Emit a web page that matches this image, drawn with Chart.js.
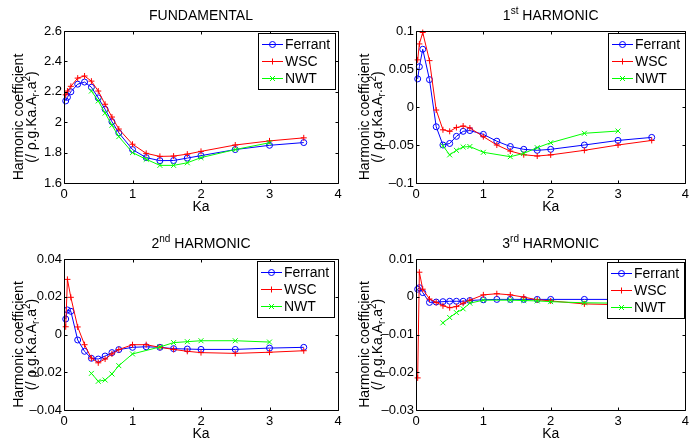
<!DOCTYPE html>
<html>
<head>
<meta charset="utf-8">
<title>Harmonic coefficients vs Ka</title>
<script src="https://cdn.jsdelivr.net/npm/chart.js@4/dist/chart.umd.min.js"></script>
<style>
    html, body { margin: 0; padding: 0; background: #fff; }
    #wrap { position: relative; width: 693px; height: 447px; overflow: hidden; }
    canvas { position: absolute; }
</style>
</head>
<body>
<div id="wrap">
    <canvas id="fund" width="346" height="224" style="left:0;top:0"></canvas>
    <canvas id="h1" width="347" height="224" style="left:346px;top:0"></canvas>
    <canvas id="h2" width="346" height="223" style="left:0;top:224px"></canvas>
    <canvas id="h3" width="347" height="223" style="left:346px;top:224px"></canvas>
</div>
<script>
// ---- data ----
const ka = [0.025, 0.05, 0.1, 0.2, 0.3, 0.4, 0.5, 0.6, 0.7, 0.8, 1.0, 1.2, 1.4, 1.6, 1.8, 2.0, 2.5, 3.0, 3.5];
const seriesNames = ['Ferrant', 'WSC', 'NWT'];
const xTicks = [0, 1, 2, 3, 4];

// fundamental
const fundFerrant = [2.14, 2.164, 2.20, 2.25, 2.264, 2.23, 2.16, 2.085, 2.003, 1.93, 1.82, 1.767, 1.747, 1.748, 1.764, 1.78, 1.82, 1.848, 1.866];
const fundWSC     = [2.18, 2.205, 2.236, 2.29, 2.304, 2.27, 2.205, 2.118, 2.034, 1.955, 1.855, 1.795, 1.775, 1.777, 1.79, 1.808, 1.85, 1.877, 1.897];
const fundNWT     = [null, null, null, null, null, 2.205, 2.14, 2.06, 1.98, 1.905, 1.80, 1.756, 1.716, 1.716, 1.733, 1.767, 1.82, 1.865, null];
const fundTicks = [1.6, 1.8, 2, 2.2, 2.4, 2.6];

// 1st harmonic
const h1Ferrant = [0.037, 0.053, 0.076, 0.036, -0.026, -0.050, -0.048, -0.0386, -0.032, -0.031, -0.036, -0.045, -0.052, -0.0557, -0.057, -0.0557, -0.050, -0.044, -0.040];
const h1WSC     = [0.062, 0.083, 0.098, 0.061, -0.004, -0.030, -0.032, -0.027, -0.025, -0.0276, -0.039, -0.050, -0.058, -0.0628, -0.0645, -0.063, -0.057, -0.050, -0.044];
const h1NWT     = [null, null, null, null, null, -0.051, -0.063, -0.057, -0.0526, -0.052, -0.0596, null, -0.0654, -0.061, -0.0535, -0.047, -0.0346, -0.0316, null];
const h1Ticks = [-0.1, -0.05, 0, 0.05, 0.1];

// 2nd harmonic
const h2Ferrant = [0.0082, 0.013, 0.0123, -0.0029, -0.0089, -0.0126, -0.013, -0.0114, -0.0096, -0.008, -0.0068, -0.0065, -0.0068, -0.0075, -0.0077, -0.0079, -0.0079, -0.0072, -0.0068];
const h2WSC     = [0.0041, 0.0292, 0.0197, 0.004, -0.0054, -0.0125, -0.015, -0.013, -0.0103, -0.008, -0.0054, -0.0054, -0.0068, -0.0079, -0.0089, -0.0096, -0.010, -0.0094, -0.0086];
const h2NWT     = [null, null, null, null, null, -0.0206, -0.0248, -0.0241, -0.0209, -0.0165, -0.0103, null, -0.0066, -0.0043, -0.0038, -0.0033, -0.0033, -0.004, null];
const h2Ticks = [-0.04, -0.02, 0, 0.02, 0.04];

// 3rd harmonic
const h3Ferrant = [0.002, 0.0024, 0.0011, -0.0015, -0.0014, -0.0013, -0.0012, -0.0012, -0.0012, -0.001, -0.0008, -0.0007, -0.0007, -0.0007, -0.0007, -0.0007, -0.0007, -0.0007, -0.0007];
const h3WSC     = [-0.0215, 0.0065, 0.002, -0.0006, -0.0015, -0.0024, -0.0029, -0.0026, -0.0017, -0.0009, 0.0005, 0.0008, 0.0005, -0.0001, -0.0008, -0.0011, -0.0019, -0.0021, -0.0022];
const h3NWT     = [null, null, null, null, null, -0.0069, -0.0055, -0.0042, -0.0032, -0.0017, -0.0009, null, -0.0009, -0.001, -0.0011, -0.0013, -0.0016, -0.0017, null];
const h3Ticks = [-0.03, -0.02, -0.01, 0, 0.01];

// ---- look ----
const FONT = '"Liberation Sans", Arial, Helvetica, sans-serif';
Chart.defaults.font.family = FONT;
Chart.defaults.font.size = 13;
Chart.defaults.color = '#000';

const seriesStyle = [
    { color: '#0000ff', pointStyle: 'circle', radius: 3 },
    { color: '#ff0000', pointStyle: 'cross', radius: 3 },
    { color: '#00ff00', pointStyle: 'crossRot', radius: 3.5 }
];

const yLabel1 = [{ text: 'Harmonic coefficient', size: 14 }];
const yLabel2 = [
    { text: '(/ \u03c1.g.Ka.A', size: 14 },
    { text: 'r', size: 10, dy: 3 },
    { text: '.a', size: 14 },
    { text: '2', size: 10, dy: -6 },
    { text: ')', size: 14 }
];

function toPoints(values) {
    return ka.map((x, i) => ({ x: x, y: values[i] })).filter(p => p.y !== null);
}

function fmt(v) {
    return String(Math.round(v * 1000) / 1000).replace('-', '\u2013');
}

// draw a list of text runs (with sub/superscripts) centred on cx
function drawRuns(ctx, runs, cx, y) {
    const widths = runs.map(r => {
        ctx.font = r.size + 'px ' + FONT;
        return ctx.measureText(r.text).width;
    });
    let x = cx - widths.reduce((s, w) => s + w, 0) / 2;
    runs.forEach((r, i) => {
        ctx.font = r.size + 'px ' + FONT;
        ctx.fillText(r.text, x, y + (r.dy || 0));
        x += widths[i];
    });
}

function drawMarker(ctx, style, x, y) {
    const r = style.radius;
    ctx.beginPath();
    if (style.pointStyle === 'circle') {
        ctx.arc(x, y, r, 0, Math.PI * 2);
    } else if (style.pointStyle === 'cross') {
        ctx.moveTo(x - r, y); ctx.lineTo(x + r, y);
        ctx.moveTo(x, y - r); ctx.lineTo(x, y + r);
    } else {
        const d = r * 0.707;
        ctx.moveTo(x - d, y - d); ctx.lineTo(x + d, y + d);
        ctx.moveTo(x - d, y + d); ctx.lineTo(x + d, y - d);
    }
    ctx.stroke();
}

/**
 * MATLAB style box, inward ticks, labels and legend
 */
const matlabAxes = {
    id: 'matlabAxes',
    afterDatasetsDraw(chart, args, o) {
        const { ctx, chartArea: a } = chart;
        const xs = chart.scales.x, ys = chart.scales.y;
        const L = Math.round(a.left) + 0.5, T = Math.round(a.top) + 0.5;
        const R = Math.round(a.right) + 0.5, B = Math.round(a.bottom) + 0.5;
        ctx.save();
        ctx.strokeStyle = '#000';
        ctx.lineWidth = 1;
        ctx.beginPath();
        ctx.rect(L, T, R - L, B - T);
        xs.ticks.forEach(t => {
            const p = Math.round(xs.getPixelForValue(t.value)) + 0.5;
            ctx.moveTo(p, B); ctx.lineTo(p, B - 3);
            ctx.moveTo(p, T); ctx.lineTo(p, T + 3);
        });
        ys.ticks.forEach(t => {
            const p = Math.round(ys.getPixelForValue(t.value)) + 0.5;
            ctx.moveTo(L, p); ctx.lineTo(L + 3, p);
            ctx.moveTo(R, p); ctx.lineTo(R - 3, p);
        });
        ctx.stroke();

        // title, x label, y label
        ctx.fillStyle = '#000';
        ctx.textAlign = 'left';
        ctx.textBaseline = 'alphabetic';
        const midX = (a.left + a.right) / 2;
        const midY = (a.top + a.bottom) / 2 + 10;
        drawRuns(ctx, o.title, midX, a.top - 11);
        drawRuns(ctx, [{ text: 'Ka', size: 14 }], midX, a.bottom + 28);
        ctx.save();
        ctx.translate(23, midY);
        ctx.rotate(-Math.PI / 2);
        drawRuns(ctx, yLabel1, 0, 0);
        ctx.restore();
        ctx.save();
        ctx.translate(36, midY);
        ctx.rotate(-Math.PI / 2);
        drawRuns(ctx, yLabel2, 0, 0);
        ctx.restore();

        // legend box
        const lw = 77, lh = 56;
        const lx = Math.round(a.right) - o.legend.right - lw;
        const ly = Math.round(a.top) + o.legend.top;
        ctx.fillStyle = '#fff';
        ctx.fillRect(lx, ly, lw, lh);
        ctx.strokeStyle = '#000';
        ctx.strokeRect(lx + 0.5, ly + 0.5, lw, lh);
        ctx.textBaseline = 'middle';
        seriesNames.forEach((name, i) => {
            const st = seriesStyle[i];
            const yy = ly + 11.5 + i * 17;
            ctx.strokeStyle = st.color;
            ctx.beginPath();
            ctx.moveTo(lx + 4, yy); ctx.lineTo(lx + 25, yy);
            ctx.stroke();
            drawMarker(ctx, st, lx + 14.5, yy);
            ctx.fillStyle = '#000';
            ctx.font = '14px ' + FONT;
            ctx.fillText(name, lx + 27, yy + 1);
        });
        ctx.restore();
    }
};

function makePanel(p) {
    const canvas = document.getElementById(p.id);
    const W = canvas.width, H = canvas.height;
    const datasets = p.series.map((vals, i) => ({
        label: seriesNames[i],
        data: toPoints(vals),
        borderColor: seriesStyle[i].color,
        borderWidth: 1,
        pointStyle: seriesStyle[i].pointStyle,
        pointRadius: seriesStyle[i].radius,
        pointBorderColor: seriesStyle[i].color,
        pointBackgroundColor: 'rgba(0,0,0,0)',
        pointBorderWidth: 1,
        tension: 0,
        fill: false,
        clip: false,
        order: 2 - i
    }));
    return new Chart(canvas, {
        type: 'line',
        data: { datasets: datasets },
        options: {
            responsive: false,
            animation: false,
            devicePixelRatio: 1,
            events: [],
            layout: { padding: { left: 0, top: p.area.top, right: W - p.area.right, bottom: 0 } },
            plugins: {
                legend: { display: false },
                tooltip: { enabled: false },
                matlabAxes: { title: p.title, legend: p.legend }
            },
            scales: {
                x: {
                    type: 'linear',
                    min: xTicks[0],
                    max: xTicks[xTicks.length - 1],
                    afterBuildTicks: s => { s.ticks = xTicks.map(v => ({ value: v })); },
                    afterFit: s => { s.height = H - p.area.bottom; },
                    grid: { display: false, drawTicks: false },
                    border: { display: false },
                    ticks: { color: '#000', padding: 4, maxRotation: 0, callback: v => fmt(v) }
                },
                y: {
                    type: 'linear',
                    min: p.yTicks[0],
                    max: p.yTicks[p.yTicks.length - 1],
                    afterBuildTicks: s => { s.ticks = p.yTicks.map(v => ({ value: v })); },
                    afterFit: s => { s.width = p.area.left; },
                    grid: { display: false, drawTicks: false },
                    border: { display: false },
                    ticks: { color: '#000', padding: 2, callback: v => fmt(v) }
                }
            }
        },
        plugins: [matlabAxes]
    });
}

const harmonicTitle = (n, suffix) => [
    { text: n, size: 14 },
    { text: suffix, size: 10, dy: -6 },
    { text: ' HARMONIC', size: 14 }
];

makePanel({
    id: 'fund', series: [fundFerrant, fundWSC, fundNWT], yTicks: fundTicks,
    title: [{ text: 'FUNDAMENTAL', size: 14 }],
    area: { left: 64, top: 31, right: 338, bottom: 183 }, legend: { right: 3, top: 2 }
});
makePanel({
    id: 'h1', series: [h1Ferrant, h1WSC, h1NWT], yTicks: h1Ticks,
    title: harmonicTitle('1', 'st'),
    area: { left: 70, top: 31, right: 343, bottom: 183 }, legend: { right: 0, top: 2 }
});
makePanel({
    id: 'h2', series: [h2Ferrant, h2WSC, h2NWT], yTicks: h2Ticks,
    title: harmonicTitle('2', 'nd'),
    area: { left: 64, top: 35, right: 338, bottom: 186 }, legend: { right: 4, top: 2 }
});
makePanel({
    id: 'h3', series: [h3Ferrant, h3WSC, h3NWT], yTicks: h3Ticks,
    title: harmonicTitle('3', 'rd'),
    area: { left: 70, top: 35, right: 343, bottom: 186 }, legend: { right: 1, top: 3 }
});
</script>
</body>
</html>
